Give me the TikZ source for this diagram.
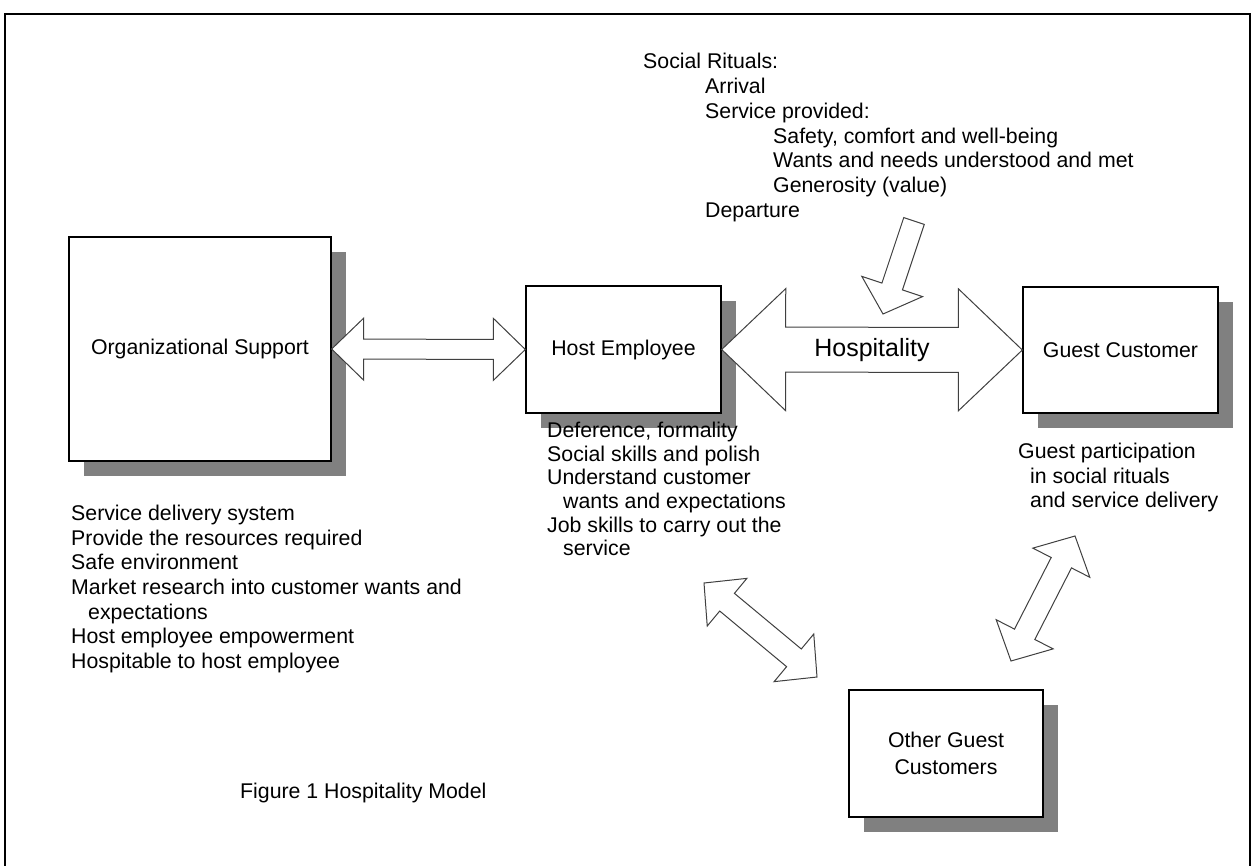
\documentclass[tikz,border=0pt]{standalone}
\usepackage{fontspec}
\setmainfont{Liberation Sans}
\usetikzlibrary{calc,shadows}

% Double-headed block arrow from #1 to #2:
% #3 shaft half-width, #4 head half-width, #5 head length
\newcommand{\dblarrow}[5]{%
  \coordinate (da1) at ($(#1)!#5!(#2)$);
  \coordinate (da2) at ($(#2)!#5!(#1)$);
  \draw[blockarrow] (#1)
    -- ($(da1)!#4!-90:(#2)$) -- ($(da1)!#3!-90:(#2)$)
    -- ($(da2)!#3!90:(#1)$) -- ($(da2)!#4!90:(#1)$)
    -- (#2)
    -- ($(da2)!#4!-90:(#1)$) -- ($(da2)!#3!-90:(#1)$)
    -- ($(da1)!#3!90:(#2)$) -- ($(da1)!#4!90:(#2)$)
    -- cycle;
}
% Single block arrow from tail #1 to tip #2
\newcommand{\onearrow}[5]{%
  \coordinate (sa) at ($(#2)!#5!(#1)$);
  \draw[blockarrow] ($(#1)!#3!90:(#2)$)
    -- ($(sa)!#3!-90:(#1)$) -- ($(sa)!#4!-90:(#1)$)
    -- (#2)
    -- ($(sa)!#4!90:(#1)$) -- ($(sa)!#3!90:(#1)$)
    -- ($(#1)!#3!-90:(#2)$)
    -- cycle;
}

\tikzset{
  box/.style={draw=black, line width=1.3pt, fill=white, inner sep=0pt, align=center,
    font=\fontsize{21.3}{25}\selectfont,
    drop shadow={shadow xshift=15pt, shadow yshift=-15pt, fill=black!50, opacity=1}},
  blockarrow/.style={draw=black!75, line width=1pt, fill=white, line join=miter},
  listtext/.style={anchor=north west, inner sep=0pt, align=left},
}

\begin{document}
\begin{tikzpicture}[x=1pt,y=-1pt]
\useasboundingbox (0,0) rectangle (1253,865);
% frame
\draw[line width=1.4pt] (5,866) -- (5,14) -- (1250,14) -- (1250,866);

% boxes
\node[box, minimum width=262pt, minimum height=224pt] (org) at (200,349) {Organizational Support};
\node[box, minimum width=195pt, minimum height=127pt] (host) at (623.5,349.5) {Host Employee};
\node[box, minimum width=195pt, minimum height=126pt] (guest) at (1120.5,350) {Guest Customer};
\node[box, minimum width=194pt, minimum height=127pt] (other) at (946,753.5) {Other Guest\\[2pt]Customers};

% arrows
\dblarrow{org.east}{host.west}{10pt}{31pt}{32pt}
\dblarrow{host.east}{guest.west}{22.5pt}{61pt}{64pt}
\node[font=\fontsize{25}{28}\selectfont, inner sep=0pt] (hosp) at ($(host.east)!0.5!(guest.west)$) {Hospitality};

\coordinate (ritualtail) at (914,221);
\coordinate (ritualtip) at (883,314);
\onearrow{ritualtail}{ritualtip}{10.8pt}{32pt}{29pt}

\coordinate (hostend) at (704,583);
\coordinate (otherleft) at (817,677);
\dblarrow{hostend}{otherleft}{11.5pt}{31pt}{30pt}

\coordinate (guestend) at (1075,536);
\coordinate (otherright) at (1011,661);
\dblarrow{guestend}{otherright}{11.4pt}{32pt}{30pt}

% text blocks
\node[listtext, font=\fontsize{21.3}{24.8}\selectfont] (rituals) at (643,53)
  {Social Rituals:\\
   \hspace*{62pt}Arrival\\
   \hspace*{62pt}Service provided:\\
   \hspace*{130pt}Safety, comfort and well-being\\
   \hspace*{130pt}Wants and needs understood and met\\
   \hspace*{130pt}Generosity (value)\\
   \hspace*{62pt}Departure};

\node[listtext, font=\fontsize{21.3}{24.6}\selectfont] (orglist) at (71,505)
  {Service delivery system\\
   Provide the resources required\\
   Safe environment\\
   Market research into customer wants and\\
   \hspace*{17pt}expectations\\
   Host employee empowerment\\
   Hospitable to host employee};

\node[listtext, font=\fontsize{21.3}{23.6}\selectfont] (hostlist) at (547,422)
  {Deference, formality\\
   Social skills and polish\\
   Understand customer\\
   \hspace*{16pt}wants and expectations\\
   Job skills to carry out the\\
   \hspace*{16pt}service};

\node[listtext, font=\fontsize{21.3}{24.5}\selectfont] (guestlist) at (1018,443)
  {Guest participation\\
   \hspace*{12pt}in social rituals\\
   \hspace*{12pt}and service delivery};

\node[anchor=west, inner sep=0pt, font=\fontsize{21.3}{24}\selectfont] (caption) at (240,793)
  {Figure 1 Hospitality Model};
\end{tikzpicture}
\end{document}
